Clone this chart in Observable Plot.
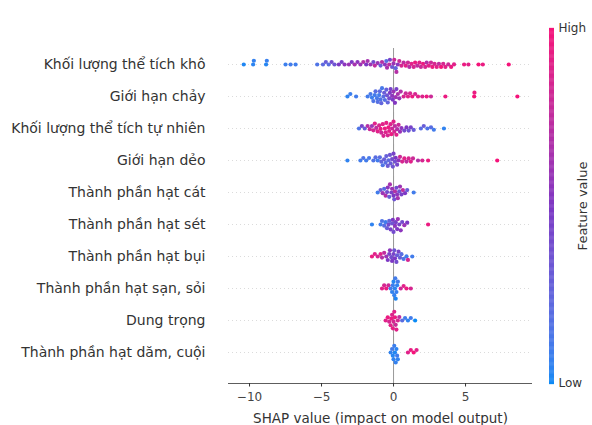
<!DOCTYPE html>
<html><head><meta charset="utf-8">
<script src="https://cdn.jsdelivr.net/npm/d3@7"></script>
<script src="https://cdn.jsdelivr.net/npm/@observablehq/plot@0.6"></script>
<style>
html,body{margin:0;padding:0;background:#fff;}
#wrap{position:relative;width:592px;height:425px;}
#cb{position:absolute;left:530px;top:0;}
</style></head>
<body><div id="wrap"><div id="main"></div><div id="cb"></div></div>
<script>
const features = ["Khối lượng thể tích khô","Giới hạn chảy","Khối lượng thể tích tự nhiên","Giới hạn dẻo","Thành phần hạt cát","Thành phần hạt sét","Thành phần hạt bụi","Thành phần hạt sạn, sỏi","Dung trọng","Thành phần hạt dăm, cuội"];
const xTicks = [-10, -5, 0, 5];
const xTitle = "SHAP value (impact on model output)";
// [SHAP value, normalised feature value]
const klttKho = [[-10.4,.02],[-9.75,.04],[-9.7,.06],[-8.85,.03],[-8.8,.07],[-7.5,.08],[-7.15,.1],[-6.8,.09],[-5.3,.15],[-4.9,.22],[-4.7,.3],[-4.5,.2],[-4.3,.4],[-4.1,.35],[-3.8,.5],[-3.6,.45],[-3.4,.55],[-3.1,.6],[-2.9,.5],[-2.7,.65],[-2.5,.55],[-2.3,.6],[-2.1,.7],[-1.9,.5],[-1.8,.65],[-1.6,.6],[-1.4,.4],[-1.3,.75],[-1.1,.6],[-0.9,.3],[-0.8,.7],[-0.6,.55],[-0.5,.2],[-0.45,.65],[-0.3,.75],[-0.25,.45],[-0.1,.35],[0.0,.6],[0.05,.8],[0.15,.25],[0.2,.7],[0.3,.55],[0.4,.8],[0.55,.85],[0.7,.75],[0.85,.9],[1.0,.8],[1.1,.7],[1.25,.9],[1.4,.85],[1.5,.95],[1.65,.75],[1.8,.9],[1.9,.8],[2.05,.95],[2.2,.85],[2.3,.7],[2.45,.9],[2.6,.8],[2.7,.95],[2.85,.85],[3.0,.9],[3.15,.75],[3.3,1.0],[3.45,.85],[3.6,.9],[3.8,.8],[4.0,.95],[4.2,.9],[4.9,.95],[5.2,.9],[5.9,1.0],[6.2,.95],[8.0,1.0]];
const gioiHanChay = [[-3.2,.05],[-3.0,.08],[-2.6,.1],[-1.8,.1],[-1.6,.12],[-1.5,.08],[-1.4,.15],[-1.3,.1],[-1.25,.2],[-1.15,.12],[-1.1,.18],[-1.0,.1],[-0.95,.22],[-0.9,.15],[-0.85,.25],[-0.8,.12],[-0.7,.2],[-0.65,.3],[-0.6,.18],[-0.5,.28],[-0.45,.35],[-0.4,.25],[-0.3,.4],[-0.25,.5],[-0.2,.45],[-0.1,.55],[-0.05,.48],[0.0,.6],[0.1,.52],[0.15,.62],[0.2,.45],[0.3,.65],[0.4,.58],[0.5,.7],[0.7,.85],[0.85,.8],[1.0,.9],[1.15,.85],[1.3,.95],[1.5,.85],[1.7,.9],[2.0,.88],[2.3,.95],[2.6,.8],[3.6,.95],[5.6,1.0],[5.62,.95],[8.6,1.0]];
const klttTuNhien = [[-2.4,.15],[-2.2,.45],[-2.0,.3],[-1.8,.7],[-1.65,.8],[-1.5,.6],[-1.4,.85],[-1.3,.9],[-1.2,.75],[-1.1,.9],[-1.0,.85],[-0.9,.95],[-0.85,.8],[-0.75,.9],[-0.7,.85],[-0.6,.95],[-0.55,.88],[-0.5,.92],[-0.4,.85],[-0.35,.95],[-0.3,.9],[-0.2,.88],[-0.15,.95],[-0.1,.8],[0.0,.9],[0.05,.85],[0.1,.75],[0.2,.9],[0.25,.7],[0.35,.8],[0.45,.6],[0.55,.55],[0.75,.4],[0.9,.5],[1.05,.35],[1.2,.45],[1.4,.3],[1.9,.2],[2.1,.3],[2.35,.15],[2.6,.2],[2.8,.1],[3.5,.05]];
const gioiHanDeo = [[-3.2,.05],[-2.3,.1],[-2.1,.15],[-1.9,.1],[-1.7,.12],[-1.4,.15],[-1.25,.2],[-1.1,.1],[-0.95,.2],[-0.85,.25],[-0.75,.15],[-0.65,.3],[-0.55,.2],[-0.5,.28],[-0.4,.32],[-0.35,.22],[-0.25,.35],[-0.2,.3],[-0.1,.4],[-0.05,.35],[0.0,.45],[0.1,.38],[0.15,.5],[0.25,.42],[0.35,.55],[0.45,.8],[0.6,.85],[0.75,.9],[0.9,.75],[1.05,.85],[1.2,.9],[1.35,.8],[1.7,.7],[2.0,.85],[2.4,.95],[7.2,1.0]];
const hatCat = [[-1.1,.1],[-0.9,.3],[-0.75,.6],[-0.65,.2],[-0.55,.7],[-0.45,.4],[-0.4,.55],[-0.3,.3],[-0.25,.65],[-0.15,.45],[-0.1,.6],[0.0,.5],[0.05,.35],[0.1,.7],[0.2,.4],[0.25,.55],[0.3,.65],[0.4,.35],[0.45,.6],[0.55,.45],[0.65,.75],[0.8,.5],[0.95,.3],[1.4,.1]];
const hatSet = [[-1.5,.05],[-0.9,.1],[-0.8,.15],[-0.65,.2],[-0.55,.1],[-0.45,.3],[-0.35,.4],[-0.3,.25],[-0.2,.45],[-0.1,.35],[-0.05,.5],[0.0,.4],[0.1,.55],[0.15,.45],[0.25,.5],[0.3,.6],[0.4,.45],[0.5,.55],[0.6,.4],[0.75,.6],[0.95,.5],[2.4,.95]];
const hatBui = [[-1.5,.95],[-1.3,.9],[-1.1,.85],[-0.9,.9],[-0.8,.7],[-0.65,.75],[-0.5,.6],[-0.4,.5],[-0.3,.45],[-0.25,.55],[-0.15,.4],[-0.1,.5],[0.0,.45],[0.05,.35],[0.1,.5],[0.2,.4],[0.25,.3],[0.35,.45],[0.45,.3],[0.55,.2],[0.7,.15],[0.9,.1],[1.0,.85],[1.3,.1]];
const hatSanSoi = [[-0.8,.9],[-0.65,.85],[-0.5,.95],[-0.35,.8],[-0.2,.1],[-0.1,.05],[-0.05,.08],[0.0,.03],[0.05,.06],[0.1,.04],[0.12,.1],[0.15,.02],[0.2,.07],[0.25,.05],[0.3,.1],[0.5,.8],[0.7,.9],[0.9,.95],[1.2,.85]];
const dungTrong = [[-0.55,.9],[-0.4,.95],[-0.3,.85],[-0.2,.9],[-0.15,.95],[-0.1,.88],[-0.05,.92],[0.0,.85],[0.05,.9],[0.1,.95],[0.15,.8],[0.2,.9],[0.3,.85],[0.4,.75],[0.6,.2],[0.8,.1],[1.0,.05],[1.2,.1],[1.5,.0]];
const hatDamCuoi = [[-0.2,.05],[-0.1,.1],[-0.05,.03],[0.0,.05],[0.05,.08],[0.1,.02],[0.15,.06],[0.2,.04],[0.25,.1],[0.3,.05],[1.0,.9],[1.2,.95],[1.4,1.0],[1.6,.9]];

const rows = [klttKho, gioiHanChay, klttTuNhien, gioiHanDeo, hatCat, hatSet, hatBui, hatSanSoi, dungTrong, hatDamCuoi];
const data = rows.flatMap((r, i) => r.map(([shap, fv]) => ({feature: features[i], shap, fv})));
const lastFeature = features[features.length - 1];

const colorScale = {type: "linear", domain: [0, 0.5, 1], range: ["#0a8af5", "#7d38c4", "#f5137a"], interpolate: "lab"};
const font = "DejaVu Sans, sans-serif";

const main = Plot.plot({
  width: 592, height: 425,
  marginLeft: 228, marginRight: 60, marginTop: 45, marginBottom: 55,
  x: {domain: [-11.46, 9.65]},
  y: {domain: [-1, 1], axis: null},
  fy: {domain: features, padding: 0},
  color: colorScale,
  style: {fontFamily: font, fontSize: "12px", color: "#333", background: "white"},
  marks: [
    Plot.ruleY([0], {stroke: "#cccccc", strokeWidth: 0.7, strokeDasharray: "1,3"}),
    Plot.ruleX([0], {stroke: "#999", strokeWidth: 1, insetBottom: -15}),
    Plot.dot(data, Plot.dodgeY({anchor: "middle", padding: -0.4}, {x: "shap", fy: "feature", fill: "fv", r: 2.1})),
    Plot.ruleY([-1], {fy: [lastFeature], dy: 15, stroke: "#333", strokeWidth: 0.8}),
    Plot.axisX({ticks: xTicks, tickSize: 3.5, dy: 15, fontSize: 12, fill: "#444", tickFormat: d => d < 0 ? "\u2212" + Math.abs(d) : String(d), label: null}),
    Plot.text([xTitle], {fy: [lastFeature], frameAnchor: "bottom", dy: 54, fontSize: 13.5, fill: "#333"}),
    Plot.axisFy({anchor: "left", tickSize: 0, tickPadding: 23, fontSize: 14, label: null})
  ]
});
document.getElementById("main").appendChild(main);

const stops = d3.range(0, 1.0001, 1 / 400);
const cb = Plot.plot({
  width: 62, height: 425, margin: 0,
  x: {domain: [0, 1], range: [19, 24], axis: null},
  y: {domain: [0, 1], range: [383, 28], axis: null},
  color: colorScale,
  style: {fontFamily: font, color: "#333", background: "transparent", overflow: "visible"},
  marks: [
    Plot.ruleY(stops, {y: d => d, x1: 0, x2: 1, stroke: d => d, strokeWidth: 1.3}),
    Plot.text(["High"], {x: 1, y: 1, dx: 4, textAnchor: "start", fontSize: 12}),
    Plot.text(["Low"], {x: 1, y: 0, dx: 4, textAnchor: "start", fontSize: 12}),
    Plot.text(["Feature value"], {x: 1, y: 0.5, dx: 28, rotate: -90, fontSize: 13})
  ]
});
document.getElementById("cb").appendChild(cb);
</script></body></html>
